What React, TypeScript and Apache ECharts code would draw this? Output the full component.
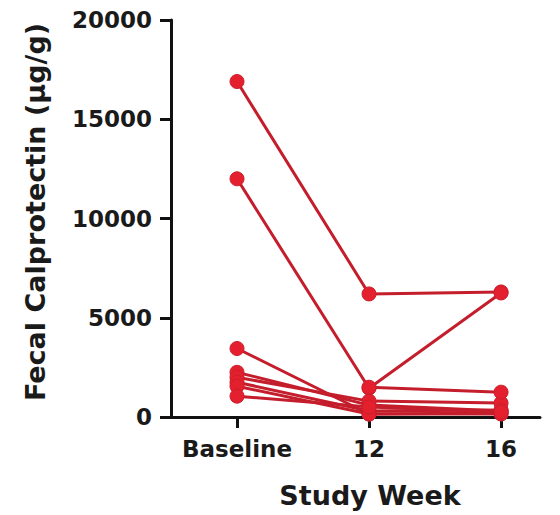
import React, { useEffect, useRef } from "react";
import * as echarts from "echarts";

const categories = ["Baseline", "12", "16"];
const yTicks = [0, 5000, 10000, 15000, 20000];

const subject1 = [16900, 6200, 6300];
const subject2 = [12000, 1450, 6250];
const subject3 = [3450, 150, 200];
const subject4 = [2250, 600, 300];
const subject5 = [2000, 800, 700];
const subject6 = [1750, 300, 350];
const subject7 = [1550, 150, 150];
const subject8 = [1050, 500, 250];
const subject9 = [null, 1500, 1250];

const subjects = [subject1, subject2, subject3, subject4, subject5, subject6, subject7, subject8, subject9];

const FONT = "DejaVu Sans";

export default function App() {
  const ref = useRef<HTMLDivElement>(null);
  useEffect(() => {
    if (!ref.current) return;
    const chart = echarts.init(ref.current, null, { renderer: "svg" });
    const catIdx = categories.map((_, i) => i);
    chart.setOption({
      animation: false,
      backgroundColor: "#ffffff",
      grid: { left: 171, top: 20, width: 369, height: 397, containLabel: false },
      xAxis: {
        type: "value",
        min: -0.5,
        max: 2.295,
        splitLine: { show: false },
        axisLine: { show: true, onZero: false, lineStyle: { color: "#111", width: 3 } },
        axisTick: { show: true, customValues: catIdx, length: 11, lineStyle: { color: "#111", width: 3 } },
        axisLabel: {
          customValues: catIdx,
          formatter: (v: number) => categories[Math.round(v)] ?? "",
          fontFamily: FONT,
          fontWeight: "bold",
          fontSize: 23,
          color: "#1a1a1a",
          margin: 20,
        },
      },
      yAxis: {
        type: "value",
        min: 0,
        max: 20000,
        interval: 5000,
        splitLine: { show: false },
        axisLine: { show: true, onZero: false, lineStyle: { color: "#111", width: 3 } },
        axisTick: { show: true, length: 11, lineStyle: { color: "#111", width: 3 } },
        axisLabel: {
          customValues: yTicks,
          formatter: (v: number) => String(v),
          fontFamily: FONT,
          fontWeight: "bold",
          fontSize: 23,
          color: "#1a1a1a",
          margin: 19,
        },
      },
      graphic: [
        {
          type: "text",
          x: 35,
          y: 212,
          rotation: Math.PI / 2,
          style: {
            text: "Fecal Calprotectin (µg/g)",
            fontFamily: FONT,
            fontWeight: "bold",
            fontSize: 27,
            fill: "#1a1a1a",
            align: "center",
            verticalAlign: "middle",
          },
        },
        {
          type: "text",
          x: 370,
          y: 495,
          style: {
            text: "Study Week",
            fontFamily: FONT,
            fontWeight: "bold",
            fontSize: 27,
            fill: "#1a1a1a",
            align: "center",
            verticalAlign: "middle",
          },
        },
      ],
      series: subjects.map((vals, k) => ({
        type: "line",
        name: "S" + (k + 1),
        data: vals.map((v, i) => (v == null ? [i, null] : [i, v])),
        connectNulls: false,
        symbol: "circle",
        symbolSize: 14,
        clip: false,
        lineStyle: { color: "#c41d2b", width: 3 },
        itemStyle: { color: "#e5202e", borderColor: "#cc1e2c", borderWidth: 1 },
        z: 3,
      })),
    });
    return () => chart.dispose();
  }, []);
  return (
    <div
      ref={ref}
      style={{ position: "fixed", left: 0, top: 0, width: 560, height: 515 }}
    />
  );
}
